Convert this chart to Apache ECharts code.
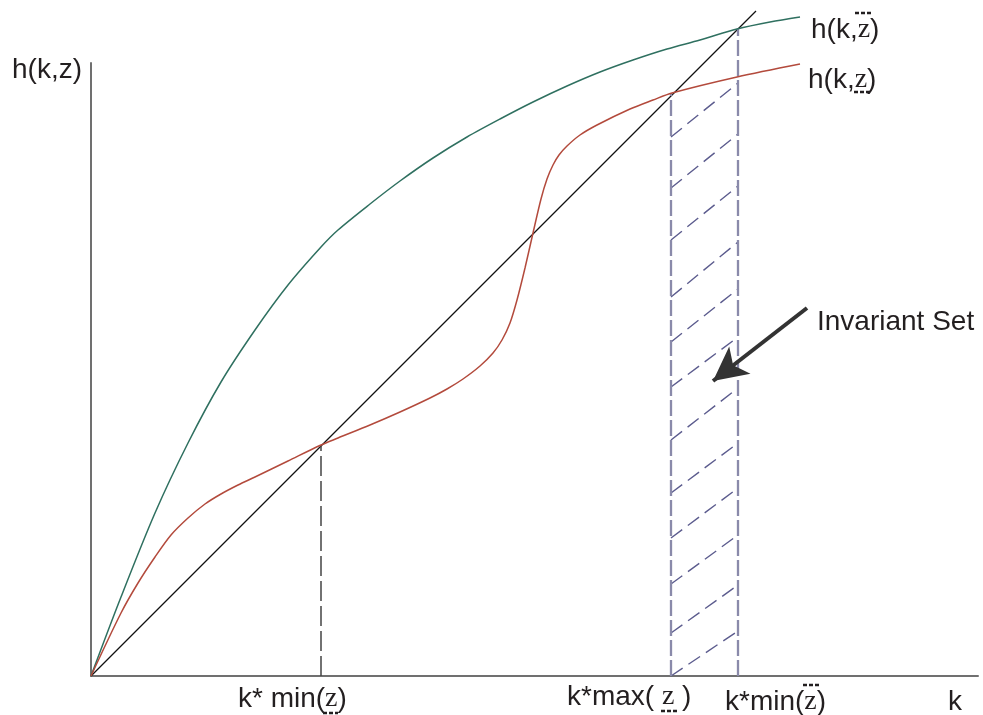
<!DOCTYPE html>
<html>
<head>
<meta charset="utf-8">
<script src="https://cdn.jsdelivr.net/npm/echarts@6/dist/echarts.min.js"></script>
<style>html,body{margin:0;padding:0;background:#fff;}#c{width:983px;height:715px;}</style>
</head>
<body>
<div id="c"></div>
<script>
// k values / h values (k and h share one scale)
const highZ = [[0,0],[30,79],[64,163],[97,233],[130,294],[164,346],[197,391],[230,429],[247,446],[279,472],[309,495],[342,518],[376,539],[409,557],[442,574],[476,590],[509,604],[542,616],[576,627],[609,636],[646,647],[679,654],[709,659]];
const lowZ = [[0,0],[30,63],[47,93],[64,119],[80,141],[97,158],[114,172],[130,182],[147,191],[164,199],[197,215],[230,231],[247,238],[279,251],[309,264],[339,278],[356,287],[372,297],[389,310],[402,323],[411,336],[419,353],[426,376],[434,408],[442,443],[450,477],[456,497],[462,511],[468,521],[476,530],[489,541],[506,551],[539,567],[562,576],[581,583],[646,599],[709,612]];
const diagonal = [[0,0],[665,665]];
const kMinLow = 230, hMinLow = 231;
const kMaxLow = 580, hMaxLow = 583;
const kMinHigh = 647, hMinHigh = 648;
// hatch lines inside the invariant set: [h at kMaxLow, h at kMinHigh]
const hatches = [[539,593],[488,542],[436,490],[379,434],[334,387],[289,339],[236,288],[183,233],[138,188],[92,141],[43,91],[0,45]];
const arrowFrom = [716,368], arrowTo = [622,295];
const xMax = 887, yMax = 613;

const SANS = 'Liberation Sans, Arial, sans-serif';
const SERIF = 'Liberation Serif, Times New Roman, serif';
const TXT = '#231f20';
const FS = 28;

const chart = echarts.init(document.getElementById('c'), null, {renderer: 'canvas'});

const hatchData = hatches.map(h => ({coords: [[kMaxLow, h[0]], [kMinHigh, h[1]]]}));

chart.setOption({
  animation: false,
  backgroundColor: '#fff',
  grid: {left: 91, right: 5, top: 63, bottom: 39},
  xAxis: {type: 'value', min: 0, max: xMax, axisLine: {show: true, lineStyle: {color: '#707070', width: 2}}, axisTick: {show: false}, axisLabel: {show: false}, splitLine: {show: false}},
  yAxis: {type: 'value', min: 0, max: yMax, axisLine: {show: true, lineStyle: {color: '#707070', width: 2}}, axisTick: {show: false}, axisLabel: {show: false}, splitLine: {show: false}},
  series: [
    {type: 'line', data: diagonal, symbol: 'none', clip: false, silent: true, lineStyle: {color: '#111', width: 1.2}, z: 3,
      markLine: {silent: true, symbol: ['none', 'arrow'], symbolSize: [26, 34], label: {show: false}, emphasis: {disabled: true},
        lineStyle: {color: '#333', width: 4, type: 'solid'},
        data: [[{coord: arrowFrom}, {coord: arrowTo}]]}},
    {type: 'line', data: highZ, symbol: 'none', smooth: 0.3, clip: false, silent: true, lineStyle: {color: '#2f7060', width: 1.5}, z: 4},
    {type: 'line', data: lowZ, symbol: 'none', smooth: 0.3, clip: false, silent: true, lineStyle: {color: '#b34a3c', width: 1.5}, z: 4},
    {type: 'line', data: [[kMinLow, 0], [kMinLow, hMinLow]], symbol: 'none', clip: false, silent: true, lineStyle: {color: '#444', width: 1.5, type: [20, 5]}},
    {type: 'line', data: [[kMaxLow, 0], [kMaxLow, hMaxLow]], symbol: 'none', clip: false, silent: true, lineStyle: {color: '#8a8aaa', width: 2.3, type: [16, 4]}},
    {type: 'line', data: [[kMinHigh, 0], [kMinHigh, hMinHigh]], symbol: 'none', clip: false, silent: true, lineStyle: {color: '#8a8aaa', width: 2.3, type: [16, 4]}},
    {type: 'lines', coordinateSystem: 'cartesian2d', data: hatchData, silent: true, lineStyle: {color: '#5c5c8e', width: 1.4, type: [14, 7], opacity: 1}}
  ]
});

function rich(extra) {
  return Object.assign({
    a: {fontFamily: SANS, fontSize: FS, fill: TXT, color: TXT},
    z: {fontFamily: SERIF, fontSize: FS, fill: TXT, color: TXT}
  }, extra || {});
}
function label(x, y, text) {
  return {type: 'text', x: x, y: y, silent: true, z: 10,
    style: {text: text, rich: rich(), font: FS + 'px ' + SANS, fill: TXT, align: 'left', verticalAlign: 'bottom'}};
}
function dash(x1, x2, y) {
  return {type: 'line', silent: true, z: 10, shape: {x1: x1, y1: y, x2: x2, y2: y},
    style: {stroke: TXT, lineWidth: 2.5, lineDash: [4, 2]}};
}

chart.setOption({
  graphic: [
    label(12, 84, '{a|h(k,z)}'),
    label(811, 44, '{a|h(k,}{z|z}{a|)}'),
    dash(855, 872, 13),
    label(808, 94, '{a|h(k,}{z|z}{a|)}'),
    dash(854, 871, 92),
    label(238, 713, '{a|k* min(}{z|z}{a|)}'),
    dash(323, 338, 713),
    label(567, 711, '{a|k*max( }{z|z}{a| )}'),
    dash(661, 677, 711),
    label(725, 716, '{a|k*min(}{z|z}{a|)}'),
    dash(803, 820, 685),
    label(948, 716, '{a|k}'),
    label(817, 336, '{a|Invariant Set}')
  ]
});
</script>
</body>
</html>
